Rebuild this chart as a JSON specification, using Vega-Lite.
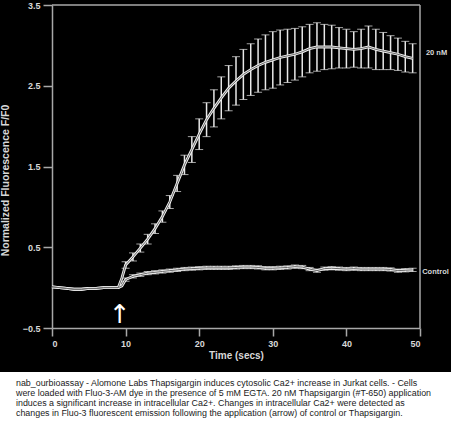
{
  "$schema": "https://vega.github.io/schema/vega-lite/v6.json",
  "background": "black",
  "padding": 0,
  "spacing": 0,
  "bounds": "flush",
  "config": {"view": {"stroke": null}},
  "datasets": {
    "series": [
      {"series": "20 nM", "t": 0, "v": 0.01, "err": null},
      {"series": "20 nM", "t": 1, "v": 0.0, "err": null},
      {"series": "20 nM", "t": 2, "v": -0.01, "err": null},
      {"series": "20 nM", "t": 3, "v": -0.02, "err": null},
      {"series": "20 nM", "t": 4, "v": -0.02, "err": null},
      {"series": "20 nM", "t": 5, "v": -0.01, "err": null},
      {"series": "20 nM", "t": 6, "v": -0.01, "err": null},
      {"series": "20 nM", "t": 7, "v": 0.0, "err": null},
      {"series": "20 nM", "t": 8, "v": 0.0, "err": null},
      {"series": "20 nM", "t": 9, "v": 0.0, "err": null},
      {"series": "20 nM", "t": 9.5, "v": 0.12, "err": null},
      {"series": "20 nM", "t": 10, "v": 0.28, "err": 0.04},
      {"series": "20 nM", "t": 11, "v": 0.38, "err": 0.05},
      {"series": "20 nM", "t": 12, "v": 0.49, "err": 0.05},
      {"series": "20 nM", "t": 13, "v": 0.6, "err": 0.06},
      {"series": "20 nM", "t": 14, "v": 0.73, "err": 0.06},
      {"series": "20 nM", "t": 15, "v": 0.88, "err": 0.07},
      {"series": "20 nM", "t": 16, "v": 1.06, "err": 0.08},
      {"series": "20 nM", "t": 17, "v": 1.29, "err": 0.1},
      {"series": "20 nM", "t": 18, "v": 1.52, "err": 0.12},
      {"series": "20 nM", "t": 19, "v": 1.71, "err": 0.16},
      {"series": "20 nM", "t": 20, "v": 1.9, "err": 0.19},
      {"series": "20 nM", "t": 21, "v": 2.08, "err": 0.21},
      {"series": "20 nM", "t": 22, "v": 2.22, "err": 0.23},
      {"series": "20 nM", "t": 23, "v": 2.35, "err": 0.26},
      {"series": "20 nM", "t": 24, "v": 2.47, "err": 0.28},
      {"series": "20 nM", "t": 25, "v": 2.56, "err": 0.3},
      {"series": "20 nM", "t": 26, "v": 2.64, "err": 0.31},
      {"series": "20 nM", "t": 27, "v": 2.7, "err": 0.32},
      {"series": "20 nM", "t": 28, "v": 2.75, "err": 0.33},
      {"series": "20 nM", "t": 29, "v": 2.79, "err": 0.34},
      {"series": "20 nM", "t": 30, "v": 2.82, "err": 0.35},
      {"series": "20 nM", "t": 31, "v": 2.85, "err": 0.34},
      {"series": "20 nM", "t": 32, "v": 2.87, "err": 0.33},
      {"series": "20 nM", "t": 33, "v": 2.89, "err": 0.32},
      {"series": "20 nM", "t": 34, "v": 2.92, "err": 0.31},
      {"series": "20 nM", "t": 35, "v": 2.96, "err": 0.3},
      {"series": "20 nM", "t": 36, "v": 2.98, "err": 0.3},
      {"series": "20 nM", "t": 37, "v": 2.98, "err": 0.28},
      {"series": "20 nM", "t": 38, "v": 2.98, "err": 0.27},
      {"series": "20 nM", "t": 39, "v": 2.97, "err": 0.25},
      {"series": "20 nM", "t": 40, "v": 2.96, "err": 0.24},
      {"series": "20 nM", "t": 41, "v": 2.95, "err": 0.22},
      {"series": "20 nM", "t": 42, "v": 2.96, "err": 0.24},
      {"series": "20 nM", "t": 43, "v": 2.98, "err": 0.26},
      {"series": "20 nM", "t": 44, "v": 2.95, "err": 0.25},
      {"series": "20 nM", "t": 45, "v": 2.93, "err": 0.23},
      {"series": "20 nM", "t": 46, "v": 2.91, "err": 0.21},
      {"series": "20 nM", "t": 47, "v": 2.89, "err": 0.2},
      {"series": "20 nM", "t": 48, "v": 2.86, "err": 0.19},
      {"series": "20 nM", "t": 49, "v": 2.84, "err": 0.18},
      {"series": "Control", "t": 0, "v": 0.01, "err": null},
      {"series": "Control", "t": 1, "v": 0.0, "err": null},
      {"series": "Control", "t": 2, "v": -0.01, "err": null},
      {"series": "Control", "t": 3, "v": -0.02, "err": null},
      {"series": "Control", "t": 4, "v": -0.02, "err": null},
      {"series": "Control", "t": 5, "v": -0.01, "err": null},
      {"series": "Control", "t": 6, "v": -0.01, "err": null},
      {"series": "Control", "t": 7, "v": 0.0, "err": null},
      {"series": "Control", "t": 8, "v": 0.0, "err": null},
      {"series": "Control", "t": 9, "v": 0.0, "err": null},
      {"series": "Control", "t": 9.5, "v": 0.02, "err": null},
      {"series": "Control", "t": 10, "v": 0.1, "err": 0.02},
      {"series": "Control", "t": 11, "v": 0.14, "err": 0.02},
      {"series": "Control", "t": 12, "v": 0.16, "err": 0.02},
      {"series": "Control", "t": 13, "v": 0.18, "err": 0.02},
      {"series": "Control", "t": 14, "v": 0.19, "err": 0.02},
      {"series": "Control", "t": 15, "v": 0.2, "err": 0.02},
      {"series": "Control", "t": 16, "v": 0.21, "err": 0.02},
      {"series": "Control", "t": 17, "v": 0.22, "err": 0.02},
      {"series": "Control", "t": 18, "v": 0.23, "err": 0.02},
      {"series": "Control", "t": 19, "v": 0.235, "err": 0.02},
      {"series": "Control", "t": 20, "v": 0.24, "err": 0.02},
      {"series": "Control", "t": 21, "v": 0.245, "err": 0.02},
      {"series": "Control", "t": 22, "v": 0.245, "err": 0.02},
      {"series": "Control", "t": 23, "v": 0.245, "err": 0.02},
      {"series": "Control", "t": 24, "v": 0.245, "err": 0.02},
      {"series": "Control", "t": 25, "v": 0.25, "err": 0.02},
      {"series": "Control", "t": 26, "v": 0.255, "err": 0.02},
      {"series": "Control", "t": 27, "v": 0.255, "err": 0.02},
      {"series": "Control", "t": 28, "v": 0.25, "err": 0.02},
      {"series": "Control", "t": 29, "v": 0.24, "err": 0.02},
      {"series": "Control", "t": 30, "v": 0.24, "err": 0.02},
      {"series": "Control", "t": 31, "v": 0.245, "err": 0.02},
      {"series": "Control", "t": 32, "v": 0.25, "err": 0.02},
      {"series": "Control", "t": 33, "v": 0.26, "err": 0.02},
      {"series": "Control", "t": 34, "v": 0.255, "err": 0.02},
      {"series": "Control", "t": 35, "v": 0.23, "err": 0.02},
      {"series": "Control", "t": 36, "v": 0.21, "err": 0.02},
      {"series": "Control", "t": 37, "v": 0.235, "err": 0.02},
      {"series": "Control", "t": 38, "v": 0.24, "err": 0.02},
      {"series": "Control", "t": 39, "v": 0.235, "err": 0.02},
      {"series": "Control", "t": 40, "v": 0.23, "err": 0.02},
      {"series": "Control", "t": 41, "v": 0.235, "err": 0.02},
      {"series": "Control", "t": 42, "v": 0.23, "err": 0.02},
      {"series": "Control", "t": 43, "v": 0.23, "err": 0.02},
      {"series": "Control", "t": 44, "v": 0.23, "err": 0.02},
      {"series": "Control", "t": 45, "v": 0.23, "err": 0.02},
      {"series": "Control", "t": 46, "v": 0.225, "err": 0.02},
      {"series": "Control", "t": 47, "v": 0.21, "err": 0.02},
      {"series": "Control", "t": 48, "v": 0.215, "err": 0.02},
      {"series": "Control", "t": 49, "v": 0.22, "err": 0.02}
    ],
    "box": [
      {"t": 0, "t2": 50, "v": 3.5, "v2": 3.5},
      {"t": 50, "t2": 50, "v": -0.5, "v2": 3.5}
    ],
    "labels": [
      {"t": 50.8, "v": 2.9, "label": "20 nM"},
      {"t": 50.3, "v": 0.19, "label": "Control"}
    ],
    "arrow": [
      {"t": 9.2, "v": -0.34, "label": "↑"}
    ],
    "caption": [
      {"line": 1, "text": "nab_ourbioassay - Alomone Labs Thapsigargin induces cytosolic Ca2+ increase in Jurkat cells. - Cells"},
      {"line": 2, "text": "were loaded with Fluo-3-AM dye in the presence of 5 mM EGTA. 20 nM Thapsigargin (#T-650) application"},
      {"line": 3, "text": "induces a significant increase in intracellular Ca2+. Changes in intracellular Ca2+ were detected as"},
      {"line": 4, "text": "changes in Fluo-3 fluorescent emission following the application (arrow) of control or Thapsigargin."}
    ]
  },
  "vconcat": [
    {
      "width": 451,
      "height": 372,
      "encoding": {
        "x": {
          "field": "t", "type": "quantitative",
          "scale": {"domain": [0, 50], "range": [52, 420], "nice": false, "zero": false},
          "axis": {
            "title": "Time (secs)", "values": [0, 10, 20, 30, 40, 50], "format": "d",
            "offset": -44, "grid": false,
            "domainColor": "#a8a8a8", "domainWidth": 1.5,
            "tickColor": "#a8a8a8", "tickWidth": 1.5, "tickSize": 8,
            "labelColor": "#d8d8d8", "labelFont": "Liberation Sans", "labelFontWeight": "bold", "labelFontSize": 9, "labelPadding": 3,
            "titleColor": "#d8d8d8", "titleFont": "Liberation Sans", "titleFontWeight": "bold", "titleFontSize": 10, "titlePadding": 2
          }
        },
        "y": {
          "field": "v", "type": "quantitative",
          "scale": {"domain": [-0.5, 3.5], "range": [328, 5], "nice": false, "zero": false},
          "axis": {
            "title": "Normalized Fluorescence  F/F0", "values": [-0.5, 0.5, 1.5, 2.5, 3.5], "format": ".1f",
            "offset": -52, "grid": false,
            "domainColor": "#a8a8a8", "domainWidth": 1.5,
            "tickColor": "#a8a8a8", "tickWidth": 1.5, "tickSize": 9,
            "labelColor": "#d8d8d8", "labelFont": "Liberation Sans", "labelFontWeight": "bold", "labelFontSize": 9, "labelPadding": 3,
            "titleColor": "#d8d8d8", "titleFont": "Liberation Sans", "titleFontWeight": "bold", "titleFontSize": 10.5,
            "titleX": -42, "titleY": 180
          }
        }
      },
      "layer": [
        {
          "data": {"name": "box"},
          "mark": {"type": "rule", "color": "#a8a8a8", "strokeWidth": 1.5},
          "encoding": {"x2": {"field": "t2"}, "y2": {"field": "v2"}}
        },
        {
          "data": {"name": "series"},
          "transform": [{"filter": "datum.err != null"}],
          "mark": {
            "type": "errorbar",
            "ticks": {"size": 8, "color": "#e8e8e8", "strokeWidth": 1.5},
            "rule": {"color": "#e8e8e8", "strokeWidth": 1.5}
          },
          "encoding": {"yError": {"field": "err"}, "detail": {"field": "series"}}
        },
        {
          "data": {"name": "series"},
          "mark": {"type": "line", "color": "#f0f0f0", "strokeWidth": 2.8},
          "encoding": {"detail": {"field": "series"}}
        },
        {
          "data": {"name": "series"},
          "mark": {"type": "line", "color": "#6a6a6a", "strokeWidth": 1},
          "encoding": {"detail": {"field": "series"}}
        },
        {
          "data": {"name": "labels"},
          "mark": {"type": "text", "align": "left", "baseline": "middle", "color": "#d8d8d8", "font": "Liberation Sans", "fontWeight": "bold", "fontSize": 7.5, "clip": true},
          "encoding": {"text": {"field": "label"}}
        },
        {
          "data": {"name": "arrow"},
          "mark": {"type": "text", "align": "center", "baseline": "middle", "color": "white", "font": "DejaVu Sans", "fontSize": 26},
          "encoding": {"text": {"field": "label"}}
        }
      ]
    },
    {
      "width": 451,
      "height": 53,
      "view": {"fill": "white", "stroke": null},
      "data": {"name": "caption"},
      "mark": {"type": "text", "align": "left", "baseline": "middle", "color": "#1a1a1a", "font": "Liberation Sans", "fontSize": 8.9, "dx": 16},
      "encoding": {
        "x": {"datum": 0, "type": "quantitative", "scale": {"domain": [0, 1]}, "axis": null},
        "y": {"field": "line", "type": "ordinal", "scale": {"type": "point", "padding": 0, "range": [10.5, 40.5]}, "axis": null},
        "text": {"field": "text"}
      }
    }
  ]
}
